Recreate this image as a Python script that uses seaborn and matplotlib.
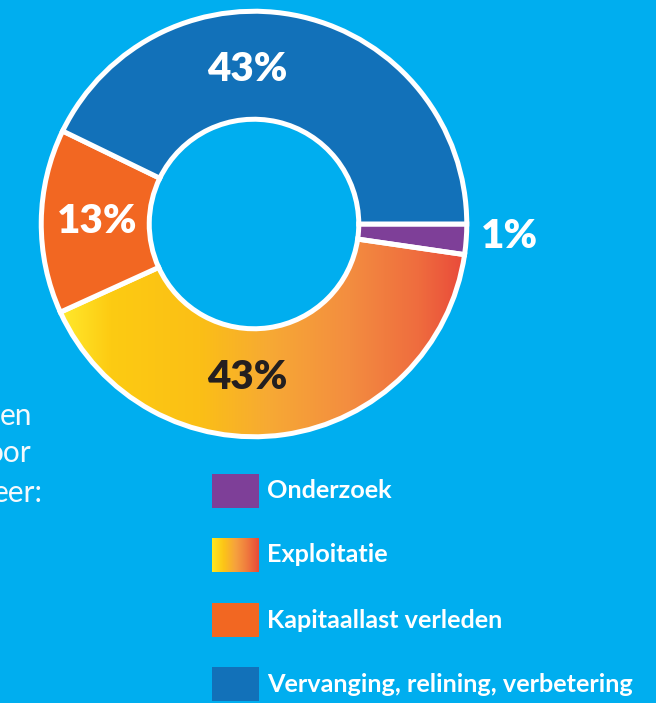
import numpy as np
import matplotlib
matplotlib.use("Agg")
import matplotlib.pyplot as plt
from matplotlib.colors import LinearSegmentedColormap
from matplotlib.patches import Rectangle
import seaborn as sns

# ---- data ---------------------------------------------------------------
categories = ["Onderzoek", "Exploitatie", "Kapitaallast verleden",
              "Vervanging, relining, verbetering"]
shares = [2.3, 40.9, 14.0, 42.8]
share_labels = ["1%", "43%", "13%", "43%"]
side_text = ["en", "oor", "eer:"]

# ---- style --------------------------------------------------------------
sns.set_theme(style="white")
plt.rcParams["font.family"] = ["Lato", "DejaVu Sans"]

BG = "#00AEEF"
palette = sns.color_palette(["#7E3F98", "#F8B12A", "#F26722", "#1271B9"])
grad_stops = [(0.0, "#FFEC3A"), (0.056, "#FFE82C"), (0.167, "#FDCB12"),
              (0.375, "#FBBF16"), (0.537, "#F7A934"), (0.722, "#F38D40"),
              (0.884, "#EF6C3E"), (1.0, "#E8463A")]
grad_cmap = LinearSegmentedColormap.from_list("exploit", grad_stops)
swatch_cmap = LinearSegmentedColormap.from_list(
    "swatch", ["#FFE81E", "#FCC417", "#F6A23E", "#EF7A3E", "#E84B3A"])

W, H = 656, 703
fig = plt.figure(figsize=(W / 100, H / 100), dpi=100, facecolor=BG)

# donut axes: centre (254, 224) px, radius 216 px
cx, cy, R = 254, 224, 216
ax = fig.add_axes([(cx - R) / W, (H - cy - R) / H, 2 * R / W, 2 * R / H])

wedges, _ = ax.pie(shares, colors=palette, startangle=0, counterclock=False,
                   radius=0.985,
                   wedgeprops=dict(width=0.5, edgecolor="white", linewidth=3.6))
for w in wedges:
    w.set_zorder(3)

# gradient fill for Exploitatie
exp_w = wedges[1]
exp_w.set_facecolor("none")
grad = np.linspace(0, 1, 512).reshape(1, -1)
img = ax.imshow(grad, cmap=grad_cmap, extent=[-1, 1, -1, 1], aspect="auto",
                zorder=2, interpolation="bicubic")
img.set_clip_path(exp_w)
ax.set_xlim(-1, 1)
ax.set_ylim(-1, 1)
ax.set_aspect("equal")
ax.axis("off")

# percentage labels (manual placement as in the infographic)
label_pos = [(1.185, -0.06), (-0.03, -0.71), (-0.725, 0.01), (-0.03, 0.715)]
label_col = ["white", "#231F20", "white", "white"]
for txt, (x, y), c in zip(share_labels, label_pos, label_col):
    ax.text(x, y, txt, ha="center", va="center", fontsize=29,
            fontweight="heavy", color=c, zorder=5)

# cut-off side text on the left
side_x = [32, 32, 43]
side_y = [425, 462, 502]
for t, x, y in zip(side_text, side_x, side_y):
    fig.text(x / W, 1 - y / H, t, ha="right", va="baseline",
             fontsize=21.5, color="#F4F9FC")

# legend
lx0, sw_w, sw_h = 212, 47, 34
row_y = [491, 555, 620, 684]
lax = fig.add_axes([0, 0, 1, 1])
lax.patch.set_alpha(0)
for i, (cat, y) in enumerate(zip(categories, row_y)):
    if i == 1:
        lax.imshow(grad, cmap=swatch_cmap, aspect="auto",
                   extent=[lx0, lx0 + sw_w, y + sw_h / 2, y - sw_h / 2])
    else:
        lax.add_patch(Rectangle((lx0, y - sw_h / 2), sw_w, sw_h,
                                facecolor=palette[i], edgecolor="none"))
    lax.text(lx0 + 55, y, cat, ha="left", va="center", fontsize=18.2,
             fontweight="bold", color="white")
lax.set_xlim(0, W)
lax.set_ylim(H, 0)
lax.axis("off")

fig.savefig("out.png", dpi=100, facecolor=BG)
